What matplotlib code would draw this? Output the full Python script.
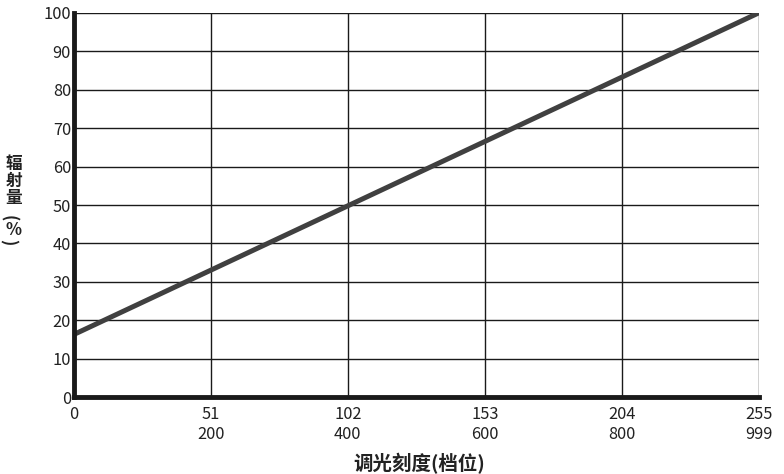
import matplotlib.pyplot as plt

plt.rcParams["font.family"] = ["Noto Sans CJK SC", "DejaVu Sans"]

X_VALUES = [0, 255]
Y_VALUES = [16.3, 100]

X_TICKS = [0, 51, 102, 153, 204, 255]
X_TICK_LABELS = ["0", "51\n200", "102\n400", "153\n600", "204\n800", "255\n999"]
Y_TICKS = [0, 10, 20, 30, 40, 50, 60, 70, 80, 90, 100]

TEXT_COLOR = "#222222"

figure = plt.figure(figsize=(7.84, 4.74), dpi=100)
axes = figure.add_axes([0.094, 0.162, 0.874, 0.811])

axes.plot(X_VALUES, Y_VALUES, color="#404040", linewidth=3.6,
          solid_capstyle="round", zorder=3)

axes.set_xlim(0, 255)
axes.set_ylim(0, 100)
axes.set_xticks(X_TICKS)
axes.set_xticklabels(X_TICK_LABELS, fontsize=11.8, color=TEXT_COLOR,
                     linespacing=1.25)
axes.set_yticks(Y_TICKS)
axes.set_yticklabels([str(v) for v in Y_TICKS], fontsize=11.8,
                     color=TEXT_COLOR)
axes.tick_params(axis="x", length=0, pad=6)
axes.tick_params(axis="y", length=0, pad=2)

axes.grid(True, color="#1a1a1a", linewidth=1.0)
axes.set_axisbelow(True)

for side in ["top", "right"]:
    axes.spines[side].set_visible(False)
for side in ["left", "bottom"]:
    axes.spines[side].set_linewidth(3.5)
    axes.spines[side].set_color("#1a1a1a")
    axes.spines[side].set_zorder(4)

figure.text(419 / 784, 1 - 463 / 474, "调光刻度(档位)", ha="center",
            va="center", fontsize=14, fontweight="bold", color=TEXT_COLOR)

# vertical y label, one glyph at a time (rotated brackets sit off-centre,
# so they get their own x)
label_parts = [
    ("辐", 14, 164, 0),
    ("射", 14, 181, 0),
    ("量", 14, 198, 0),
    ("(", 8, 218, -90),
    ("%", 14, 230, 0),
    (")", 8, 242, -90),
]
for char, pixel_x, pixel_y, angle in label_parts:
    figure.text(pixel_x / 784, 1 - pixel_y / 474, char, ha="center",
                va="center", rotation=angle, fontsize=12,
                fontweight="bold", color=TEXT_COLOR)

figure.savefig("out.png", dpi=100)
